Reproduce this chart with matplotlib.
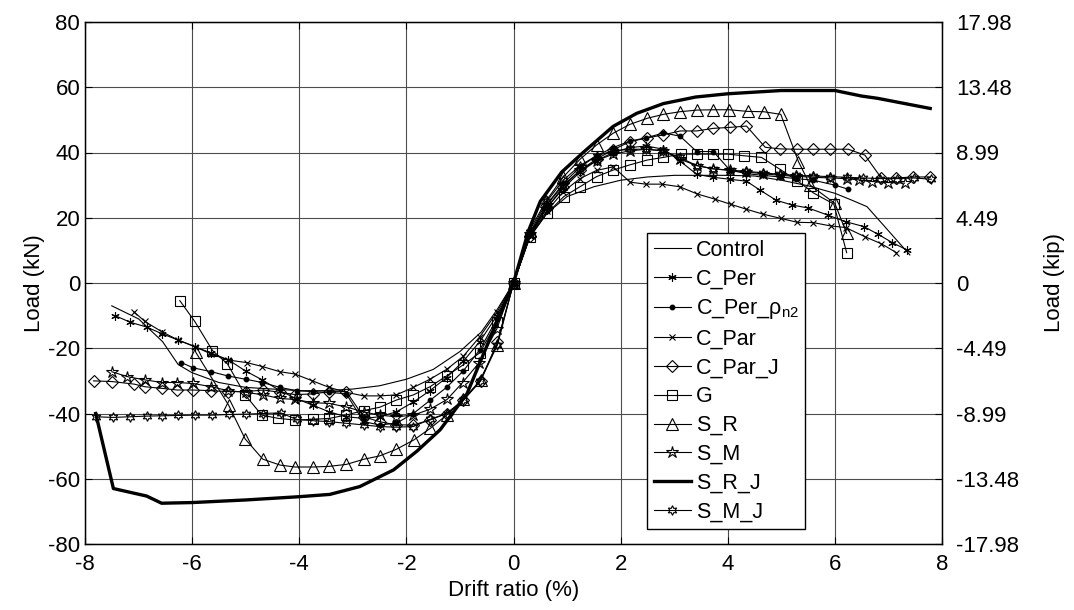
import matplotlib
matplotlib.use("Agg")
import matplotlib.pyplot as plt

plt.rcParams['font.family'] = ['Liberation Sans', 'DejaVu Sans']
plt.rcParams['mathtext.fontset'] = 'custom'
plt.rcParams['mathtext.rm'] = 'Liberation Sans'
plt.rcParams['mathtext.it'] = 'Liberation Sans:italic'
plt.rcParams['axes.unicode_minus'] = False

# Control
control_x = [-7.5, -7.0, -6.55, -6.26, -6.0, -5.5, -5.0, -4.5, -4.0, -3.5, -3.0, -2.5, -2.0, -1.5,
             -1.0, -0.6, -0.3, 0, 0.3, 0.6, 1.0, 1.5, 2.0, 2.5, 3.0, 3.5, 4.0, 4.5, 5.0, 5.5, 6.0,
             6.3, 6.6, 7.0, 7.4]
control_y = [-7, -11, -18, -25, -27.5, -30.5, -32, -32.5, -33, -33, -32.5, -31.5, -29.5, -26.5,
             -21, -15, -8, 0, 14, 21, 26.5, 29.5, 31.5, 32.5, 33, 33, 33, 32.8, 31.5, 29.8, 27.5,
             25.5, 23.4, 16, 8.6]

# C_Per
cper_x = [-7.44, -7.16, -6.85, -6.57, -6.26, -5.95, -5.64, -5.33, -5.0, -4.69, -4.36, -4.05, -3.74,
          -3.44, -3.12, -2.8, -2.5, -2.19, -1.87, -1.56, -1.25, -0.94, -0.63, -0.31, 0,
          0.31, 0.62, 0.93, 1.24, 1.55, 1.86, 2.17, 2.48, 2.8, 3.1, 3.42, 3.73, 4.04, 4.35, 4.6,
          4.9, 5.2, 5.5, 5.87, 6.2, 6.54, 6.8, 7.07, 7.35]
cper_y = [-10, -12, -13.5, -15.5, -17.5, -19.5, -21.5, -23.5, -27, -29.7, -33, -35.5, -37.5,
          -39.5, -41, -41.5, -41, -39.5, -36.5, -33, -29, -24, -18, -10, 0,
          15, 23, 29, 34, 37.5, 40, 41.5, 42, 41, 37.5, 33.3, 32.4, 31.8, 31.2, 28.5,
          25.4, 23.9, 23, 20.8, 18.8, 17.3, 15, 12.4, 10.1]

# C_Per_rho_n2
cperr_x = [-6.2, -5.98, -5.64, -5.33, -5.0, -4.69, -4.36, -4.05, -3.74, -3.44, -3.12, -2.8, -2.5,
           -2.19, -1.87, -1.56, -1.25, -0.94, -0.63, -0.31, 0,
           0.31, 0.62, 0.93, 1.24, 1.55, 1.86, 2.17, 2.48, 2.8, 3.11, 3.42, 3.73, 4.04, 4.35,
           4.66, 4.97, 5.28, 5.6, 6.0, 6.24]
cperr_y = [-24.4, -26, -27.2, -28.5, -29.5, -30.5, -32, -33, -33.3, -33.5, -34, -42.5, -43.5,
           -43, -40, -36, -32, -27, -20.5, -11, 0,
           15, 24, 30.5, 35.5, 39, 41.5, 43.5, 44.5, 46, 45, 40.3, 40.3, 34.6, 33.5,
           33, 32.5, 32, 31.5, 30, 28.8]

# C_Par
cpar_x = [-7.09, -6.88, -6.57, -6.26, -5.95, -5.64, -5.33, -4.98, -4.69, -4.36, -4.08, -3.77, -3.44,
          -3.12, -2.8, -2.5, -2.19, -1.87, -1.56, -1.25, -0.94, -0.63, -0.31, 0,
          0.31, 0.62, 0.93, 1.24, 1.55, 1.86, 2.18, 2.47, 2.77, 3.1, 3.43, 3.76, 4.06, 4.35,
          4.66, 4.99, 5.3, 5.6, 5.92, 6.2, 6.56, 6.87, 7.15]
cpar_y = [-8.8, -11.8, -14.9, -17.5, -19.5, -21.8, -23.6, -24.4, -25.6, -27.2, -27.9, -29.9, -32,
          -33.5, -34.6, -34.6, -34.3, -32, -29.5, -26.5, -22.5, -16.5, -9, 0,
          14.5, 22, 28, 32, 34.5, 35.6, 30.9, 30.3, 30.3, 29.5, 27.3, 25.7, 24.1, 22.6,
          21.1, 19.8, 18.6, 18.5, 17.5, 17, 14.2, 12, 9.3]

# C_Par_J
cparj_x = [-7.84, -7.5, -7.08, -6.88, -6.56, -6.28, -5.99, -5.64, -5.33, -5.0, -4.67, -4.36, -4.08,
           -3.74, -3.44, -3.12, -2.8, -2.5, -2.19, -1.87, -1.56, -1.25, -0.94, -0.61, -0.3, 0,
           0.31, 0.62, 0.93, 1.24, 1.55, 1.86, 2.17, 2.5, 2.8, 3.11, 3.42, 3.73, 4.04, 4.35,
           4.7, 4.98, 5.29, 5.6, 5.9, 6.25, 6.56, 6.87, 7.15, 7.46, 7.78]
cparj_y = [-30, -30.2, -31, -31.8, -32.3, -32.8, -32.8, -33, -33.3, -33.3, -32.8, -33.5, -34.2,
           -34, -33.3, -33.3, -41, -42.5, -43.5, -43.5, -42, -40, -36, -30, -18, 0,
           14.5, 23, 29.5, 34.5, 38, 40.8, 43.3, 44.5, 45.4, 46.6, 46.6, 47.4, 47.7, 48.1,
           41.6, 41.1, 41, 41, 41, 41, 39.2, 32.1, 32.2, 32.5, 32.5]

# G
g_x = [-6.23, -5.95, -5.62, -5.34, -5.01, -4.7, -4.39, -4.08, -3.74, -3.44, -3.13, -2.8, -2.5,
       -2.19, -1.87, -1.56, -1.25, -0.94, -0.63, -0.31, 0,
       0.31, 0.63, 0.94, 1.24, 1.55, 1.86, 2.17, 2.5, 2.8, 3.12, 3.42, 3.73, 4.0, 4.3, 4.63,
       4.97, 5.3, 5.6, 5.98, 6.22]
g_y = [-5.4, -11.8, -20.7, -24.8, -34.3, -40.5, -41.5, -42, -41.8, -41.5, -40.5, -39.1, -38.1,
       -35.9, -34.3, -31.8, -28.5, -25.1, -21.4, -12, 0,
       14.2, 21.4, 26.5, 29.5, 32.6, 34.6, 36.2, 37.7, 38.5, 39.5, 39.5, 39.5, 39.5, 39, 38.5,
       34.9, 31.3, 27.6, 24.2, 9.3]

# S_R
sr_x = [-5.93, -5.32, -5.01, -4.68, -4.36, -4.08, -3.74, -3.44, -3.12, -2.79, -2.5, -2.19, -1.86,
        -1.55, -1.25, -0.94, -0.61, -0.3, 0,
        0.3, 0.6, 0.93, 1.24, 1.55, 1.86, 2.17, 2.5, 2.8, 3.11, 3.42, 3.73, 4.03, 4.37, 4.67,
        4.99, 5.32, 5.54, 6.0, 6.22]
sr_y = [-21.3, -37.4, -47.8, -54, -55.8, -56.4, -56.4, -56.2, -55.6, -54, -53, -51, -48.1,
        -44.5, -40.5, -35.7, -29.7, -19, 0,
        16, 25, 32.5, 37.9, 42.3, 45.9, 48.6, 50.5, 51.7, 52.5, 53, 53.1, 53.1, 52.6, 52.5,
        51.7, 37.2, 30, 24.4, 15.2]

# S_M
sm_x = [-7.5, -7.21, -6.88, -6.56, -6.28, -5.98, -5.64, -5.33, -5.0, -4.67, -4.36, -4.08, -3.74,
        -3.44, -3.12, -2.8, -2.5, -2.19, -1.87, -1.56, -1.24, -0.95, -0.65, -0.31, 0,
        0.31, 0.62, 0.93, 1.24, 1.55, 1.86, 2.17, 2.48, 2.8, 3.1, 3.42, 3.73, 4.04, 4.35, 4.66,
        4.97, 5.28, 5.6, 5.91, 6.22, 6.45, 6.7, 7.0, 7.3]
sm_y = [-27.2, -28.7, -29.7, -30.5, -30.5, -30.8, -31.8, -33, -33.5, -34.3, -35.4, -35.7, -36.7,
        -36.9, -38, -39.5, -40.5, -41, -40.5, -38.7, -35.7, -30.5, -24.6, -14, 0,
        15, 24, 30, 34.5, 37.5, 39.5, 40.5, 41, 40.5, 38, 36, 35, 34.5, 34, 33.5,
        33, 32.7, 32.4, 32.2, 32, 31.6, 31.1, 30.8, 30.6]

# S_R_J
srj_x = [-7.8, -7.47, -6.85, -6.57, -6.0, -5.0, -4.0, -3.43, -2.87, -2.24, -1.8, -1.37, -0.87,
         -0.44, 0, 0.28, 0.5, 0.9, 1.3, 1.86, 2.3, 2.8, 3.4, 4.0, 5.0, 6.0, 6.5, 6.8, 7.78]
srj_y = [-40, -63, -65.3, -67.5, -67.3, -66.5, -65.5, -64.8, -62.4, -57.3, -51.5, -45, -34,
         -17, 0, 16, 25, 34, 40, 48, 52, 55, 57, 58, 59, 59, 57.3, 56.6, 53.5]

# S_M_J
smj_x = [-7.8, -7.48, -7.16, -6.85, -6.56, -6.26, -5.95, -5.62, -5.31, -5.0, -4.68, -4.35, -4.05,
         -3.75, -3.44, -3.12, -2.8, -2.5, -2.19, -1.87, -1.56, -1.25, -0.94, -0.63, -0.31, 0,
         0.31, 0.62, 0.93, 1.24, 1.55, 1.86, 2.17, 2.48, 2.8, 3.1, 3.42, 3.73, 4.04, 4.35, 4.66,
         4.97, 5.28, 5.6, 5.91, 6.22, 6.53, 6.85, 7.16, 7.47, 7.8]
smj_y = [-41, -41.2, -41, -40.8, -40.7, -40.6, -40.5, -40.5, -40.3, -40.2, -40, -39.8, -41.8,
         -42.2, -42.5, -43, -43.5, -44, -44.2, -44, -41.8, -40, -36, -30, -19, 0,
         15.5, 25, 31.5, 36, 39, 40.5, 41, 41, 40.5, 38.5, 36, 35, 34.6, 34.2, 33.8,
         33.3, 33, 32.8, 32.6, 32.4, 32.2, 32, 32, 32.2, 31.8]

y_ticks = [-80, -60, -40, -20, 0, 20, 40, 60, 80]
kip_labels = ['-17.98', '-13.48', '-8.99', '-4.49', '0', '4.49', '8.99', '13.48', '17.98']

fig = plt.figure(figsize=(10.74, 6.10), dpi=100)
ax = fig.add_axes([85 / 1074, 1 - 544 / 610, 857 / 1074, 522 / 610])

thin = dict(color='black', linewidth=0.8, markerfacecolor='none', markeredgecolor='black',
            markeredgewidth=0.8)

ax.plot(control_x, control_y, label='Control', **thin)
ax.plot(cper_x, cper_y, marker=(6, 2, 0), markersize=6, label='C_Per', **thin)
ax.plot(cperr_x, cperr_y, marker='o', markersize=3.2, label='C_Per_ρ$_{\\mathregular{n2}}$',
        color='black', linewidth=0.8, markerfacecolor='black', markeredgecolor='black')
ax.plot(cpar_x, cpar_y, marker='x', markersize=4, label='C_Par', **thin)
ax.plot(cparj_x, cparj_y, marker='D', markersize=6, label='C_Par_J', **thin)
ax.plot(g_x, g_y, marker='s', markersize=7, label='G', **thin)
ax.plot(sr_x, sr_y, marker='^', markersize=8, label='S_R', **thin)
ax.plot(sm_x, sm_y, marker='*', markersize=9, label='S_M', **thin)
ax.plot(srj_x, srj_y, color='black', linewidth=2.4, label='S_R_J')
ax.plot(smj_x, smj_y, marker=(6, 1, 0), markersize=7, label='S_M_J', **thin)

ax.set_xlim(-8, 8)
ax.set_ylim(-80, 80)
ax.set_xticks(range(-8, 9, 2))
ax.set_yticks(y_ticks)
ax.grid(True, color='#4d4d4d', linewidth=0.8)
ax.tick_params(direction='in', length=5, labelsize=16, top=True, width=0.8)
ax.tick_params(axis='x', pad=7)
for s in ax.spines.values():
    s.set_linewidth(1.0)
ax.set_xlabel('Drift ratio (%)', fontsize=16, labelpad=4)
ax.set_ylabel('Load (kN)', fontsize=16, labelpad=2)

ax2 = ax.twinx()
ax2.set_ylim(-80, 80)
ax2.set_yticks(y_ticks)
ax2.set_yticklabels(kip_labels)
ax2.tick_params(direction='in', length=5, labelsize=16, pad=10, width=0.8)
ax2.set_ylabel('Load (kip)', fontsize=16, labelpad=18)

leg = ax.legend(loc='lower left', bbox_to_anchor=(0.656, 0.029), fontsize=15.5,
                frameon=True, fancybox=False, framealpha=1, edgecolor='black',
                handlelength=1.75, handletextpad=0.2, labelspacing=0.36,
                borderpad=0.3, borderaxespad=0)
leg.get_frame().set_linewidth(1.0)

fig.savefig('out.png', dpi=100)
